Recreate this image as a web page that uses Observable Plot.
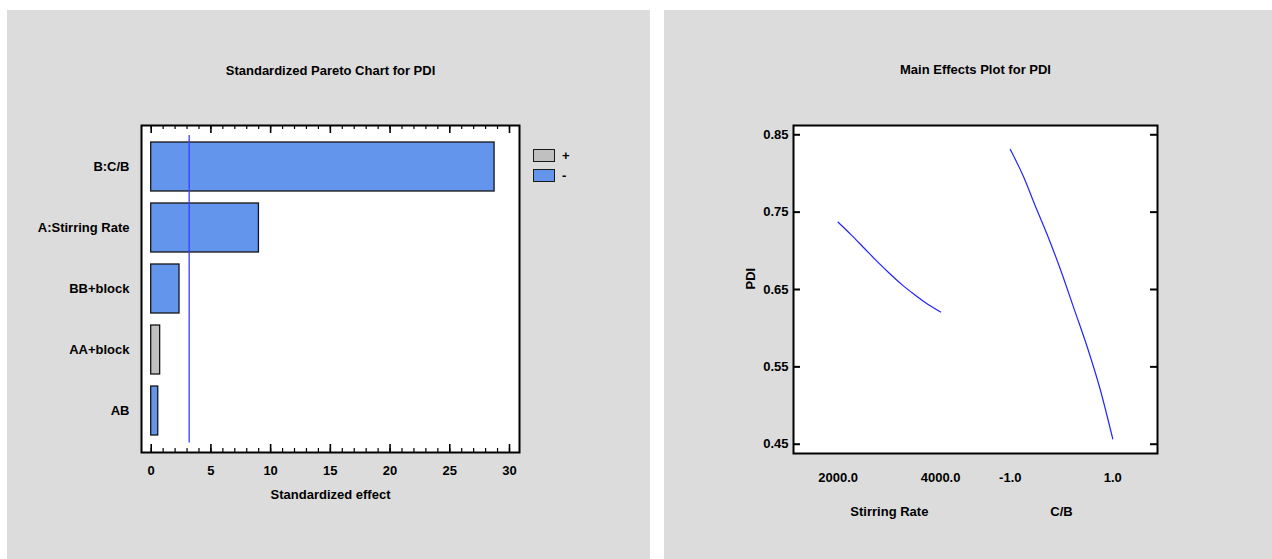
<!DOCTYPE html>
<html><head><meta charset="utf-8">
<script src="https://cdn.jsdelivr.net/npm/d3@7"></script>
<script src="https://cdn.jsdelivr.net/npm/@observablehq/plot@0.6"></script>
<style>
body{margin:0;background:#fff;}
#wrap{position:relative;width:1272px;height:559px;overflow:hidden;font-family:"Liberation Sans",Arial,sans-serif;font-weight:bold;font-size:13px;color:#000;}
.panel{position:absolute;top:10px;height:549px;background:#dcdcdc;}
.panel svg{display:block;}
.lg{position:absolute;display:flex;align-items:center;height:14px;}
.lg span.box{display:inline-block;width:20px;height:11px;border:1.4px solid #1a1a1a;margin-right:7px;}
</style></head>
<body>
<div id="wrap">
  <div id="left" class="panel" style="left:7px;width:643px"></div>
  <div id="right" class="panel" style="left:664px;width:608px"></div>
</div>
<script>
// ---------- data: Pareto chart ----------
const terms   = ["B:C/B", "A:Stirring Rate", "BB+block", "AA+block", "AB"];
const effects = [28.75, 9.02, 2.37, 0.75, 0.59];
const signs   = ["-", "-", "-", "+", "-"];
const criticalValue = 3.18;
const paretoMajorTicks = [0, 5, 10, 15, 20, 25, 30];
const paretoMinorTicks = d3.range(0, 31, 1);
const legendSigns  = ["+", "-"];
const legendColors = ["#c0c0c0", "#6495ed"];
const paretoTitle = "Standardized Pareto Chart for PDI";
const paretoXLabel = "Standardized effect";

// ---------- data: Main effects plot ----------
const stirRate = [2000, 2250, 2500, 2750, 3000, 3250, 3500, 3750, 4000];
const stirPDI  = [0.737, 0.721, 0.704, 0.687, 0.671, 0.656, 0.643, 0.631, 0.621];
const cbLevel  = [-1, -0.75, -0.5, -0.25, 0, 0.25, 0.5, 0.75, 1];
const cbPDI    = [0.831, 0.797, 0.756, 0.716, 0.672, 0.624, 0.576, 0.522, 0.457];
const factorNames = ["Stirring Rate", "C/B"];
const factorTickLabels = [["2000.0", "4000.0"], ["-1.0", "1.0"]];
const pdiTicks = [0.45, 0.55, 0.65, 0.75, 0.85];
const mainTitle = "Main Effects Plot for PDI";
const mainYLabel = "PDI";

const font = {fontFamily: "'Liberation Sans', Arial, sans-serif", fontSize: "13px", fontWeight: "bold", color: "black", background: "transparent", overflow: "visible"};

// ---------- Pareto ----------
const W1 = 643, H1 = 549, mL1 = 134, mR1 = 131, mT1 = 115, mB1 = 107;
const fh1 = H1 - mT1 - mB1;
const paretoRows = terms.map((t, i) => ({term: t, effect: effects[i], sign: signs[i]}));

const pareto = Plot.plot({
  width: W1, height: H1, marginLeft: mL1, marginRight: mR1, marginTop: mT1, marginBottom: mB1,
  style: font,
  x: {domain: [-0.812, 30.838], ticks: paretoMajorTicks, tickSize: 0, tickPadding: 13, label: null},
  y: {domain: terms, paddingInner: 0.2, paddingOuter: 0, insetTop: 15.5, insetBottom: 15, tickSize: 0, tickPadding: 12, label: null},
  color: {domain: legendSigns, range: legendColors},
  marks: [
    Plot.frame({fill: "white", stroke: null}),
    Plot.barX(paretoRows, {x: "effect", y: "term", fill: "sign", stroke: "#151515", strokeWidth: 1.3}),
    Plot.ruleX([criticalValue], {stroke: "#3c3cff", strokeWidth: 1.3, insetTop: 10, insetBottom: 9.5}),
    Plot.ruleX(paretoMinorTicks, {x: d => d, insetTop: fh1 - 4, stroke: "black", strokeWidth: 1.2}),
    Plot.ruleX(paretoMajorTicks, {x: d => d, insetTop: fh1 - 8, stroke: "black", strokeWidth: 1.6}),
    Plot.ruleX(paretoMinorTicks, {x: d => d, insetBottom: fh1 - 4, stroke: "black", strokeWidth: 1.2}),
    Plot.ruleX(paretoMajorTicks, {x: d => d, insetBottom: fh1 - 8, stroke: "black", strokeWidth: 1.6}),
    Plot.text([paretoXLabel], {frameAnchor: "bottom", lineAnchor: "middle", dy: 42.6}),
    Plot.text([paretoTitle], {frameAnchor: "top", lineAnchor: "middle", dy: -54.6}),
    Plot.frame({stroke: "black", strokeWidth: 2})
  ]
});
document.getElementById("left").appendChild(pareto);

// legend (HTML)
legendSigns.forEach((s, i) => {
  const d = document.createElement("div");
  d.className = "lg";
  d.style.left = "526px";
  d.style.top = (138 + i * 20.6) + "px";
  const b = document.createElement("span");
  b.className = "box";
  b.style.background = legendColors[i];
  d.appendChild(b);
  d.appendChild(document.createTextNode(s));
  document.getElementById("left").appendChild(d);
});

// ---------- Main effects ----------
const W2 = 608, H2 = 549, mL2 = 129, mR2 = 115, mT2 = 115, mB2 = 106;
const fw2 = W2 - mL2 - mR2;
// composite horizontal position: each factor occupies one unit, second factor offset by 1.681
const factorOffset = [0, 1.681];
const posA = r => factorOffset[0] + (r - stirRate[0]) / (stirRate[stirRate.length - 1] - stirRate[0]);
const posB = c => factorOffset[1] + (c - cbLevel[0]) / (cbLevel[cbLevel.length - 1] - cbLevel[0]);
const tickPos = [factorOffset[0], factorOffset[0] + 1, factorOffset[1], factorOffset[1] + 1];
const tickText = new Map(tickPos.map((p, i) => [p, factorTickLabels[Math.floor(i / 2)][i % 2]]));
const stirRows = stirRate.map((r, i) => ({pos: posA(r), pdi: stirPDI[i]}));
const cbRows = cbLevel.map((c, i) => ({pos: posB(c), pdi: cbPDI[i]}));
const nameRows = factorNames.map((n, i) => ({name: n, pos: factorOffset[i] + 0.5}));

const mainfx = Plot.plot({
  width: W2, height: H2, marginLeft: mL2, marginRight: mR2, marginTop: mT2, marginBottom: mB2,
  style: font,
  x: {domain: [-0.436, 3.118], ticks: tickPos, tickFormat: d => tickText.get(d), tickSize: 0, tickPadding: 19, label: null},
  y: {domain: [0.438, 0.862], ticks: pdiTicks, tickFormat: d3.format(".2f"), tickSize: 0, tickPadding: 5, label: null},
  marks: [
    Plot.frame({fill: "white", stroke: null}),
    Plot.line(stirRows, {x: "pos", y: "pdi", stroke: "#2222ff", strokeWidth: 1.2, curve: "monotone-x"}),
    Plot.line(cbRows, {x: "pos", y: "pdi", stroke: "#2222ff", strokeWidth: 1.2, curve: "monotone-x"}),
    Plot.ruleY(pdiTicks, {y: d => d, insetRight: fw2 - 7, stroke: "black", strokeWidth: 2}),
    Plot.ruleY(pdiTicks, {y: d => d, insetLeft: fw2 - 7, stroke: "black", strokeWidth: 2}),
    Plot.text([mainYLabel], {frameAnchor: "left", lineAnchor: "middle", dx: -42.4, rotate: -90}),
    Plot.text(nameRows, {x: "pos", text: "name", frameAnchor: "bottom", lineAnchor: "middle", dy: 58.4}),
    Plot.text([mainTitle], {frameAnchor: "top", lineAnchor: "middle", dy: -55.2}),
    Plot.frame({stroke: "black", strokeWidth: 2})
  ]
});
document.getElementById("right").appendChild(mainfx);
</script>
</body></html>
